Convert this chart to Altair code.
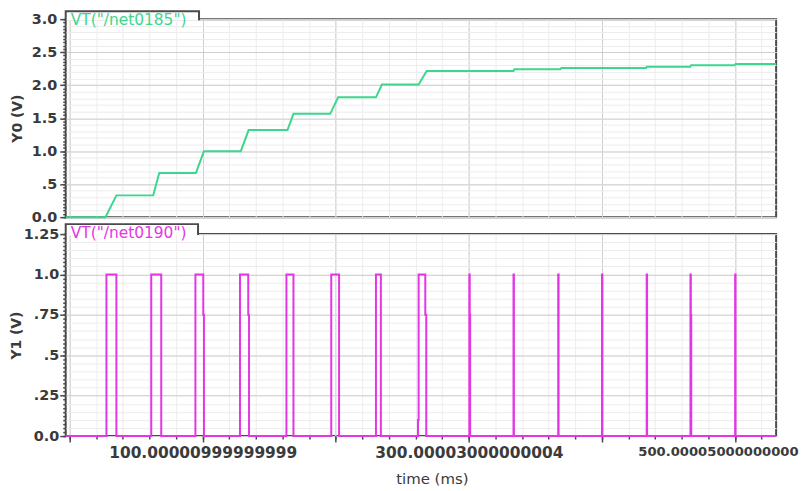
import altair as alt
import pandas as pd

GREEN = "#3ed68e"
MAGENTA = "#e536e5"
FRAME = "#4a4a4a"
MAJOR_GRID = "#cfcfcf"
MINOR_GRID = "#ececec"
LABEL = "#3a3a3a"
FONT = "DejaVu Sans"

# ---- data (time in ms, volts) ----
y0_time = [-3, 26.9, 35.1, 62.8, 67.3, 94.9, 100.9, 128.6, 134.5, 163.7, 168.2,
           195.8, 201.8, 230.2, 234.7, 262.3, 268.3, 333.6, 334.3, 368.8, 369.5,
           433.2, 433.9, 466.4, 467.1, 499.8, 500.5, 531]
y0_volt = [0, 0, 0.33, 0.33, 0.67, 0.67, 1.0, 1.0, 1.32, 1.32, 1.565,
           1.565, 1.815, 1.815, 2.01, 2.01, 2.215, 2.215, 2.24, 2.24, 2.26,
           2.26, 2.28, 2.28, 2.30, 2.30, 2.32, 2.32]

y1_time = [-3,
           27.6, 27.6, 35.1, 35.1,
           61.3, 61.3, 68.8, 68.8,
           94.5, 94.5, 100.4, 100.4, 100.9, 100.9,
           128.0, 128.0, 134.2, 134.2, 134.8, 134.8,
           162.9, 162.9, 168.2, 168.2,
           196.6, 196.6, 202.5, 202.5,
           230.2, 230.2, 233.9, 233.9,
           261.8, 261.8, 262.3, 262.3, 267.3, 267.3, 268.0, 268.0,
           300.4, 300.4, 300.7, 300.7, 301.0, 301.0,
           333.6, 333.6, 333.9, 333.9,
           367.2, 367.2, 367.5, 367.5,
           400.1, 400.1, 400.4, 400.4,
           433.7, 433.7, 434.0, 434.0,
           466.6, 466.6, 466.9, 466.9, 467.2, 467.2,
           500.2, 500.2, 500.5, 500.5,
           531]
y1_volt = [0,
           0, 1, 1, 0,
           0, 1, 1, 0,
           0, 1, 1, 0.75, 0.75, 0,
           0, 1, 1, 0.75, 0.75, 0,
           0, 1, 1, 0,
           0, 1, 1, 0,
           0, 1, 1, 0,
           0, 0.1, 0.1, 1, 1, 0.75, 0.75, 0,
           0, 1, 1, 0.75, 0.75, 0,
           0, 1, 1, 0,
           0, 1, 1, 0,
           0, 1, 1, 0,
           0, 1, 1, 0,
           0, 1, 1, 0.75, 0.75, 0,
           0, 1, 1, 0,
           0]

trace_names = ['VT("/net0185")', 'VT("/net0190")']
y_titles = ["Y0 (V)", "Y1 (V)"]
x_title = "time (ms)"
x_major = [0, 100, 200, 300, 400, 500]
x_major_text = ["", "100.00000999999999", "", "300.00003000000004", "", "500.00005000000000"]
x_minor = [0, 20, 40, 60, 80, 100, 120, 140, 160, 180, 200, 220, 240, 260, 280, 300,
           320, 340, 360, 380, 400, 420, 440, 460, 480, 500, 520]
y0_major = [0, 0.5, 1, 1.5, 2, 2.5, 3]
y0_major_text = ["0.0", ".5", "1.0", "1.5", "2.0", "2.5", "3.0"]
y0_minor = [round(i * 0.05, 2) for i in range(61)]
y1_major = [0, 0.25, 0.5, 0.75, 1.0, 1.25]
y1_major_text = ["0.0", ".25", ".5", ".75", "1.0", "1.25"]
y1_minor = [round(i * 0.025, 3) for i in range(51)]

W = 714
H0 = 199
H1 = 203
XDOMAIN = [-3, 531]


def label_expr(vals, texts):
    parts = [f"datum.value == {v} ? '{t}'" for v, t in zip(vals, texts)]
    return " : ".join(parts) + " : ''"


def panel(time, volt, color, name, ytitle, ydomain, ymajor, ymajor_text,
          yminor, grid_mult, height, bottom, tab_w, tab_h, text_y, text_size,
          lab_pad, title_pad):
    df = pd.DataFrame({"t": time, "v": volt, "i": list(range(len(time)))})
    xs = alt.Scale(domain=XDOMAIN, nice=False, zero=False)
    ys = alt.Scale(domain=ydomain, nice=False, zero=False)

    minor_x = alt.Axis(orient="bottom", values=x_minor, grid=True,
                       gridColor=MINOR_GRID, gridWidth=1, labels=False,
                       ticks=bottom, tickSize=3, tickColor=FRAME, tickWidth=1.5,
                       domain=False, title=None)
    minor_y = alt.Axis(orient="left", values=yminor, grid=True,
                       gridColor=MINOR_GRID, gridWidth=1,
                       gridOpacity={"condition": {"test": f"abs(datum.value*{grid_mult} - round(datum.value*{grid_mult})) < 0.001", "value": 1}, "value": 0},
                       labels=False, ticks=True, tickSize=3, tickColor=FRAME,
                       tickWidth=1.5, domain=False, title=None)
    if bottom:
        major_x = alt.Axis(orient="bottom", values=x_major, grid=True,
                           gridColor=MAJOR_GRID, gridWidth=1,
                           labelExpr=label_expr(x_major, x_major_text),
                           labelOverlap=False, labelBound=False, labelFlush=False,
                           labelLimit=0,
                           labelFontSize={"condition": {"test": "datum.value == 500", "value": 13.2}, "value": 15.5},
                           labelOffset={"condition": {"test": "datum.value == 500", "value": -17}, "value": 0},
                           labelPadding=4, ticks=True, tickSize=6, tickColor=FRAME,
                           tickWidth=1.5, domain=False, title=x_title,
                           titleFontWeight="normal", titleFontSize=15,
                           titlePadding=10, titleX=368, titleAlign="center")
    else:
        major_x = alt.Axis(orient="bottom", values=x_major, grid=True,
                           gridColor=MAJOR_GRID, gridWidth=1, labels=False,
                           ticks=False, domain=False, title=None)
    major_y = alt.Axis(orient="left", values=ymajor, grid=True,
                       gridColor=MAJOR_GRID, gridWidth=1,
                       labelExpr=label_expr(ymajor, ymajor_text),
                       labelOverlap=False, labelPadding=lab_pad, labelLimit=0,
                       labelFontSize=14.5, ticks=True,
                       tickSize=6, tickColor=FRAME, tickWidth=1.5, domain=False,
                       title=ytitle, titleFontWeight="bold", titleFontSize=14,
                       titlePadding=title_pad)

    minor = alt.Chart(df).mark_line(opacity=0).encode(
        x=alt.X("t:Q", scale=xs, axis=minor_x),
        y=alt.Y("v:Q", scale=ys, axis=minor_y),
        order="i:Q",
    )
    line = alt.Chart(df).mark_line(color=color, strokeWidth=2,
                                   interpolate="linear").encode(
        x=alt.X("t:Q", scale=xs, axis=major_x),
        y=alt.Y("v:Q", scale=ys, axis=major_y),
        order="i:Q",
    )
    tab_df = pd.DataFrame({"name": [name]})
    tab = alt.Chart(tab_df).mark_rect(fill="white", stroke=FRAME, strokeWidth=2).encode(
        x=alt.value(0), x2=alt.value(tab_w), y=alt.value(-tab_h), y2=alt.value(0))
    cover = alt.Chart(tab_df).mark_rect(fill="white", strokeWidth=0).encode(
        x=alt.value(1), x2=alt.value(tab_w - 1), y=alt.value(-1.5), y2=alt.value(1.5))
    text = alt.Chart(tab_df).mark_text(align="left", baseline="alphabetic",
                                       font=FONT, fontSize=text_size,
                                       color=color).encode(
        x=alt.value(5), y=alt.value(text_y), text="name:N")

    return alt.layer(minor, line, tab, cover, text).resolve_axis(
        x="independent", y="independent"
    ).properties(width=W, height=height)


top = panel(y0_time, y0_volt, GREEN, trace_names[0], y_titles[0], [0, 3],
            y0_major, y0_major_text, y0_minor, 10, H0, False, 134, 8, 6, 15.5,
            3, 7)
bottom = panel(y1_time, y1_volt, MAGENTA, trace_names[1], y_titles[1], [0, 1.25],
               y1_major, y1_major_text, y1_minor, 20, H1, True, 133, 10, 4, 15.5,
               1, 0)

chart = alt.vconcat(top, bottom, spacing=17, bounds="flush").properties(
    padding={"left": 0, "top": 0, "right": 0, "bottom": 0}
).configure_view(
    stroke=FRAME, strokeWidth=2
).configure_axis(
    labelFont=FONT, titleFont=FONT, labelColor=LABEL, titleColor=LABEL,
    labelFontWeight="bold"
)

chart.save("out.html", embed_options={"renderer": "svg", "actions": False})
